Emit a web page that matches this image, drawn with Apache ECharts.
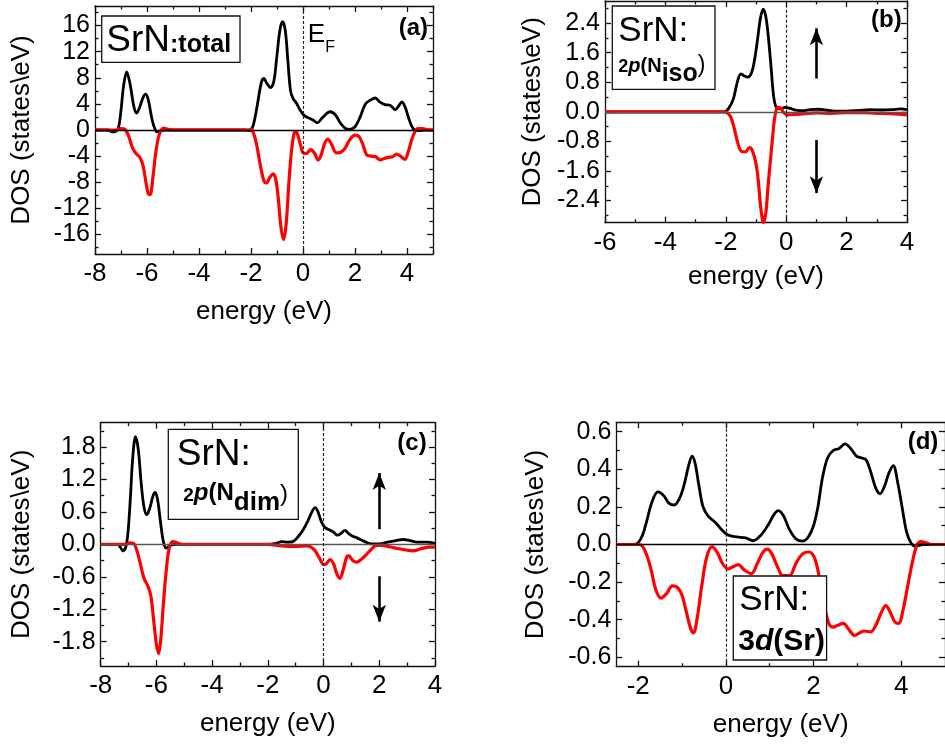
<!DOCTYPE html>
<html><head><meta charset="utf-8">
<script src="https://cdn.jsdelivr.net/npm/echarts@6/dist/echarts.min.js"></script>
<style>html,body{margin:0;padding:0;background:#fff}#c{width:945px;height:747px}</style>
</head><body><div id="c"></div>
<script>
// ---------- DATA ----------
// Panel (a): SrN total
const aUpE = [-8,-7.5,-7.35,-7.2,-7.1,-7.0,-6.9,-6.78,-6.65,-6.5,-6.4,-6.3,-6.15,-6.05,-5.95,-5.8,-5.68,-5.6,-5.45,-5.3,-2.2,-2.05,-1.95,-1.85,-1.75,-1.6,-1.5,-1.4,-1.25,-1.12,-1.0,-0.88,-0.78,-0.68,-0.58,-0.48,-0.38,-0.25,-0.1,0.05,0.25,0.4,0.55,0.75,1.05,1.25,1.45,1.65,1.8,2.0,2.2,2.4,2.6,2.78,2.95,3.15,3.35,3.55,3.7,3.8,3.92,4.05,4.18,4.3,4.45,4.7,5.0];
const aUpV = [0,0,-0.3,-0.2,0.3,3.0,6.8,8.9,7.0,3.5,2.6,3.3,5.0,5.5,4.6,1.5,0,-0.3,-0.1,0,0,-0.1,0.3,1.8,4.0,7.3,7.9,7.2,6.5,7.5,11.5,15.5,16.6,15.2,10.5,6.0,4.8,4.1,3.0,2.2,1.8,1.5,1.1,1.9,2.8,2.3,1.0,0.2,0.1,0.5,2.0,4.0,4.6,4.9,4.3,3.9,3.8,3.1,3.8,4.3,3.6,2.0,0.6,0,-0.1,0,0];
const aDnE = [-8,-7.2,-7.0,-6.85,-6.7,-6.55,-6.4,-6.27,-6.15,-6.05,-5.95,-5.88,-5.78,-5.68,-5.58,-5.48,-5.35,-5.2,-5.0,-2.1,-2.0,-1.9,-1.78,-1.65,-1.5,-1.4,-1.28,-1.15,-1.05,-0.95,-0.85,-0.75,-0.65,-0.55,-0.45,-0.35,-0.28,-0.2,-0.1,0.0,0.12,0.3,0.45,0.58,0.7,0.82,0.95,1.1,1.28,1.45,1.6,1.8,2.0,2.15,2.3,2.45,2.62,2.8,2.96,3.1,3.28,3.45,3.6,3.75,3.92,4.05,4.18,4.3,4.42,4.6,4.8,5.0];
const aDnV = [0,0,0.2,0.1,-1.0,-2.8,-3.7,-4.2,-5.5,-7.8,-9.8,-9.9,-7.5,-4.0,-1.5,-0.2,0.3,0.1,0,0,0.15,-0.5,-2.3,-5.2,-7.8,-8.1,-7.3,-6.7,-7.5,-10.5,-14.8,-16.8,-14.5,-8.5,-3.5,-0.6,-0.2,-0.8,-2.2,-3.5,-3.6,-3.0,-3.6,-4.6,-3.8,-2.2,-1.4,-2.2,-3.5,-3.4,-2.9,-1.5,-0.8,-1.0,-2.2,-3.8,-4.0,-4.1,-4.6,-4.4,-4.2,-4.1,-3.7,-4.0,-4.5,-3.3,-1.5,-0.3,0.2,0.2,0,0];
const aXTicks = [-8,-6,-4,-2,0,2,4];
const aXMinor = [-7,-5,-3,-1,1,3,5];
const aYTicks = [-16,-12,-8,-4,0,4,8,12,16];
const aYMinor = [-18,-14,-10,-6,-2,2,6,10,14,18];

// Panel (b): 2p(N_iso)
const bUpE = [-6,-2.2,-2.05,-1.9,-1.75,-1.62,-1.5,-1.4,-1.28,-1.15,-1.05,-0.95,-0.85,-0.76,-0.68,-0.6,-0.5,-0.42,-0.33,-0.2,-0.05,0.1,0.3,0.55,0.8,1.05,1.3,1.6,2.0,2.4,2.8,3.2,3.5,3.8,4.0];
const bUpV = [0,0,0,0.1,0.35,0.8,1.03,0.98,0.94,1.05,1.4,1.95,2.55,2.78,2.6,2.1,1.2,0.45,0.12,0.08,0.12,0.1,0.05,0.03,0.06,0.07,0.05,0.02,0.02,0.04,0.06,0.05,0.06,0.08,0.06];
const bDnE = [-6,-2.1,-1.95,-1.83,-1.72,-1.6,-1.48,-1.35,-1.22,-1.12,-1.0,-0.92,-0.84,-0.75,-0.67,-0.6,-0.52,-0.44,-0.37,-0.28,-0.18,-0.08,0.05,0.3,0.6,1.0,1.5,2.0,2.5,3.0,3.5,4.0];
const bDnV = [0,0,-0.03,-0.15,-0.45,-0.85,-1.07,-1.08,-0.97,-1.05,-1.4,-1.9,-2.6,-3.0,-2.7,-2.0,-1.3,-0.6,-0.1,0.12,0.1,-0.02,-0.08,-0.07,-0.05,-0.03,-0.04,-0.02,-0.02,-0.04,-0.05,-0.08];
const bXTicks = [-6,-4,-2,0,2,4];
const bXMinor = [-5,-3,-1,1,3];
const bYTicks = [-2.4,-1.6,-0.8,0,0.8,1.6,2.4];
const bYMinor = [-2.8,-2.0,-1.2,-0.4,0.4,1.2,2.0,2.8];

// Panel (c): 2p(N_dim)
const cUpE = [-8,-7.4,-7.3,-7.2,-7.1,-7.02,-6.93,-6.85,-6.75,-6.65,-6.55,-6.45,-6.35,-6.25,-6.12,-6.04,-5.95,-5.85,-5.75,-5.65,-5.5,-5.3,-2.0,-1.7,-1.5,-1.3,-1.1,-0.9,-0.72,-0.55,-0.4,-0.3,-0.2,-0.08,0.05,0.2,0.35,0.5,0.62,0.77,0.9,1.05,1.2,1.45,1.7,2.0,2.3,2.6,2.86,3.1,3.4,3.7,4.0];
const cUpV = [0,0,-0.05,-0.12,-0.05,0.22,0.9,1.6,1.99,1.75,1.15,0.7,0.55,0.65,0.9,0.96,0.8,0.4,0.05,-0.07,-0.02,0,0,0.02,0.05,0.04,0.05,0.15,0.28,0.45,0.62,0.68,0.6,0.42,0.31,0.27,0.23,0.17,0.2,0.26,0.2,0.15,0.12,0.06,0.01,0.01,0.04,0.07,0.09,0.07,0.04,0.04,0.02];
const cDnE = [-8,-7.1,-6.95,-6.82,-6.7,-6.58,-6.45,-6.3,-6.2,-6.1,-6.0,-5.92,-5.85,-5.75,-5.65,-5.55,-5.42,-5.3,-5.1,-2.0,-1.5,-1.0,-0.6,-0.45,-0.3,-0.15,0.0,0.1,0.23,0.35,0.48,0.59,0.7,0.82,0.9,1.05,1.19,1.35,1.5,1.7,1.9,2.1,2.4,2.8,3.2,3.5,3.8,4.0];
const cDnV = [0,0,0.03,0.02,-0.12,-0.35,-0.62,-0.78,-0.95,-1.4,-1.85,-2.02,-1.8,-1.1,-0.5,-0.1,0.05,0.04,0,0,-0.03,-0.04,-0.03,-0.05,-0.12,-0.25,-0.37,-0.36,-0.28,-0.35,-0.55,-0.63,-0.48,-0.25,-0.21,-0.3,-0.33,-0.28,-0.21,-0.1,-0.02,-0.02,-0.05,-0.09,-0.12,-0.08,-0.05,-0.05];
const cXTicks = [-8,-6,-4,-2,0,2,4];
const cXMinor = [-7,-5,-3,-1,1,3];
const cYTicks = [-1.8,-1.2,-0.6,0,0.6,1.2,1.8];
const cYMinor = [-2.1,-1.5,-0.9,-0.3,0.3,0.9,1.5,2.1];

// Panel (d): 3d(Sr)
const dUpE = [-2.5,-2.1,-2.0,-1.9,-1.8,-1.68,-1.55,-1.42,-1.3,-1.18,-1.05,-0.95,-0.85,-0.77,-0.7,-0.62,-0.52,-0.4,-0.25,-0.1,0.05,0.25,0.45,0.62,0.8,0.98,1.1,1.2,1.32,1.45,1.6,1.75,1.88,2.0,2.1,2.2,2.32,2.45,2.58,2.72,2.85,2.98,3.1,3.2,3.3,3.42,3.52,3.62,3.72,3.82,3.92,4.02,4.12,4.22,4.32,4.5,5.0];
const dUpV = [0,0,0.01,0.05,0.13,0.23,0.28,0.26,0.22,0.21,0.25,0.32,0.42,0.47,0.43,0.32,0.2,0.15,0.12,0.08,0.05,0.04,0.035,0.02,0.05,0.11,0.16,0.18,0.15,0.08,0.03,0.018,0.04,0.1,0.2,0.35,0.46,0.5,0.51,0.535,0.51,0.47,0.46,0.45,0.39,0.3,0.27,0.31,0.38,0.42,0.33,0.2,0.07,0.01,-0.01,0,0];
const dDnE = [-2.5,-2.0,-1.9,-1.8,-1.7,-1.6,-1.48,-1.35,-1.22,-1.1,-1.0,-0.9,-0.8,-0.74,-0.66,-0.55,-0.44,-0.32,-0.2,-0.08,0.05,0.15,0.28,0.42,0.58,0.72,0.85,0.95,1.05,1.18,1.3,1.45,1.6,1.75,1.9,2.02,2.12,2.22,2.35,2.45,2.55,2.68,2.8,2.94,3.05,3.15,3.3,3.42,3.55,3.65,3.75,3.85,3.94,4.05,4.15,4.25,4.35,4.45,4.55,4.7,5.0];
const dDnV = [0,0,-0.01,-0.06,-0.14,-0.24,-0.285,-0.26,-0.22,-0.23,-0.27,-0.36,-0.45,-0.47,-0.4,-0.22,-0.07,-0.013,-0.04,-0.1,-0.13,-0.12,-0.107,-0.135,-0.155,-0.1,-0.04,-0.025,-0.05,-0.12,-0.165,-0.165,-0.1,-0.05,-0.04,-0.07,-0.16,-0.3,-0.42,-0.44,-0.43,-0.42,-0.45,-0.484,-0.47,-0.46,-0.465,-0.43,-0.36,-0.325,-0.36,-0.41,-0.42,-0.34,-0.22,-0.1,-0.01,0.015,0.01,0,0];
const dXTicks = [-2,0,2,4];
const dXMinor = [-1,1,3];
const dYTicks = [-0.6,-0.4,-0.2,0,0.2,0.4,0.6];
const dYMinor = [-0.5,-0.3,-0.1,0.1,0.3,0.5];

// Spin arrows (energy, start DOS, end DOS)
const bArrows = [[1.0, 0.9, 2.26], [1.0, -0.76, -2.2]];
const cArrows = [[2.0, 0.28, 1.32], [2.0, -0.59, -1.43]];

const X_NAME = 'energy (eV)';
const Y_NAME = 'DOS (states\\eV)';

// ---------- BUILD ----------
const FONT = '"Liberation Sans", Arial, Helvetica, sans-serif';
const pairs = (xs, ys) => xs.map((x, i) => [x, ys[i]]);

const panels = [
  {grid:{left:95, top:6, width:338, height:248}, xr:[-8,5], yr:[-19,19], xt:aXTicks, xm:aXMinor, yt:aYTicks, ym:aYMinor, fmt:v=>String(v),
   up:pairs(aUpE,aUpV), dn:pairs(aDnE,aDnV), arrows:[], zeroColor:'#000', xGap:45, yGap:60},
  {grid:{left:605, top:1, width:302, height:221.7}, xr:[-6,4], yr:[-3,3], xt:bXTicks, xm:bXMinor, yt:bYTicks, ym:bYMinor, fmt:v=>v.toFixed(1),
   up:pairs(bUpE,bUpV), dn:pairs(bDnE,bDnV), arrows:bArrows, zeroColor:'#555', xGap:41, yGap:59},
  {grid:{left:100.7, top:422.7, width:334.3, height:243.3}, xr:[-8,4], yr:[-2.25,2.25], xt:cXTicks, xm:cXMinor, yt:cYTicks, ym:cYMinor, fmt:v=>v.toFixed(1),
   up:pairs(cUpE,cUpV), dn:pairs(cDnE,cDnV), arrows:cArrows, zeroColor:'#555', xGap:45, yGap:66},
  {grid:{left:616.3, top:422.3, width:333.4, height:244.4}, xr:[-2.5,5], yr:[-0.65,0.65], xt:dXTicks, xm:dXMinor, yt:dYTicks, ym:dYMinor, fmt:v=>v.toFixed(1),
   up:pairs(dUpE,dUpV), dn:pairs(dDnE,dDnV), arrows:[], zeroColor:'#000', xGap:45, yGap:67}
];

const grids = [], xAxes = [], yAxes = [], series = [];
const LINE = {color:'#111', width:1.3};
panels.forEach((p, gi) => {
  grids.push(Object.assign({containLabel:false}, p.grid));
  const base = (min, max) => ({gridIndex:gi, type:'value', min, max, splitLine:{show:false}, silent:true});
  // X axes: bottom major (labels), bottom minor, top major, top minor
  xAxes.push(Object.assign(base(p.xr[0], p.xr[1]), {position:'bottom',
    axisLine:{show:true, onZero:false, lineStyle:LINE},
    axisTick:{show:true, inside:true, length:6, customValues:p.xt, lineStyle:LINE},
    axisLabel:{show:true, customValues:p.xt, fontSize:26, color:'#000', fontFamily:FONT, margin:7, formatter:v=>String(v)},
    name:X_NAME, nameLocation:'middle', nameGap:p.xGap, nameTextStyle:{fontSize:26, color:'#000', fontFamily:FONT}}));
  xAxes.push(Object.assign(base(p.xr[0], p.xr[1]), {position:'bottom', axisLine:{show:false, onZero:false},
    axisTick:{show:true, inside:true, length:3.5, customValues:p.xm, lineStyle:LINE}, axisLabel:{show:false}}));
  xAxes.push(Object.assign(base(p.xr[0], p.xr[1]), {position:'top', axisLine:{show:true, onZero:false, lineStyle:LINE},
    axisTick:{show:true, inside:true, length:6, customValues:p.xt, lineStyle:LINE}, axisLabel:{show:false}}));
  xAxes.push(Object.assign(base(p.xr[0], p.xr[1]), {position:'top', axisLine:{show:false, onZero:false},
    axisTick:{show:true, inside:true, length:3.5, customValues:p.xm, lineStyle:LINE}, axisLabel:{show:false}}));
  // Y axes
  yAxes.push(Object.assign(base(p.yr[0], p.yr[1]), {position:'left',
    axisLine:{show:true, onZero:false, lineStyle:LINE},
    axisTick:{show:true, inside:true, length:6, customValues:p.yt, lineStyle:LINE},
    axisLabel:{show:true, customValues:p.yt, fontSize:25, color:'#000', fontFamily:FONT, margin:5, formatter:p.fmt},
    name:Y_NAME, nameLocation:'middle', nameGap:p.yGap, nameRotate:90, nameTextStyle:{fontSize:26, color:'#000', fontFamily:FONT}}));
  yAxes.push(Object.assign(base(p.yr[0], p.yr[1]), {position:'left', axisLine:{show:false, onZero:false},
    axisTick:{show:true, inside:true, length:3.5, customValues:p.ym, lineStyle:LINE}, axisLabel:{show:false}}));
  yAxes.push(Object.assign(base(p.yr[0], p.yr[1]), {position:'right', axisLine:{show:true, onZero:false, lineStyle:LINE},
    axisTick:{show:true, inside:true, length:6, customValues:p.yt, lineStyle:LINE}, axisLabel:{show:false}}));
  yAxes.push(Object.assign(base(p.yr[0], p.yr[1]), {position:'right', axisLine:{show:false, onZero:false},
    axisTick:{show:true, inside:true, length:3.5, customValues:p.ym, lineStyle:LINE}, axisLabel:{show:false}}));

  const ml = [
    {yAxis:0, symbol:'none', lineStyle:{color:p.zeroColor, width:1.3, type:'solid'}},
    {xAxis:0, symbol:'none', lineStyle:{color:'#222', width:1.2, type:[3,2]}}
  ];
  p.arrows.forEach(a => {
    ml.push([{coord:[a[0], a[1]], symbol:'none'}, {coord:[a[0], a[2]], symbol:'arrow', symbolSize:[10,17], lineStyle:{color:'#000', width:2.6, type:'solid'}}]);
  });
  series.push({type:'line', xAxisIndex:gi*4, yAxisIndex:gi*4, data:p.up, smooth:0.35, showSymbol:false, symbol:'none',
    lineStyle:{color:'#000', width:2.8}, itemStyle:{color:'#000'}, z:3, silent:true,
    markLine:{silent:true, symbol:['none','none'], label:{show:false}, animation:false, data:ml}});
  series.push({type:'line', xAxisIndex:gi*4, yAxisIndex:gi*4, data:p.dn, smooth:0.35, showSymbol:false, symbol:'none',
    lineStyle:{color:'#ff0000', width:3.2}, itemStyle:{color:'#ff0000'}, z:4, silent:true});
});

// ---------- ANNOTATIONS ----------
const box = (x, y, w, h) => ({type:'rect', z:100, shape:{x, y, width:w, height:h}, style:{fill:'#fff', stroke:'#111', lineWidth:1.3}});
const rt = (x, yBottom, text, rich) => ({type:'text', z:101, style:{x, y:yBottom, text, rich, align:'left', verticalAlign:'bottom', textAlign:'left', textVerticalAlign:'bottom', fontFamily:FONT}});
const tok = (size, weight, style, padBottom) => ({fontSize:size, fontWeight:weight||'normal', fontStyle:style||'normal', fontFamily:FONT, color:'#000', verticalAlign:'bottom', padding:[0,0,padBottom||0,0]});
const lab = (xRight, yBottom, text) => ({type:'text', z:101, style:{x:xRight, y:yBottom, text, fontSize:24, fontWeight:'bold', fontFamily:FONT, fill:'#000', align:'right', verticalAlign:'bottom', textAlign:'right', textVerticalAlign:'bottom'}});

const graphic = [
  // (a)
  box(101.7, 16, 138.3, 46.3),
  rt(106.3, 59.6, '{a|SrN}{b|:total}', {a:tok(37), b:tok(25,'bold','normal',2)}),
  rt(307.8, 47.8, '{a|E}', {a:tok(26)}),
  rt(325.2, 55.4, '{a|F}', {a:tok(16)}),
  lab(428, 40.8, '(a)'),
  // (b)
  box(612.3, 6, 102.7, 83.3),
  rt(618.3, 48.7, '{a|SrN:}', {a:tok(35)}),
  rt(618.3, 86.5, '{n|2}{p|p}{m|(N}{s|iso}{c|)}', {n:tok(18,'bold','normal',10), p:tok(20,'bold','italic',10), m:tok(20,'bold','normal',10), s:tok(25,'bold','normal',0), c:tok(23,'normal','normal',9)}),
  lab(901.7, 32.4, '(b)'),
  // (c)
  box(168.3, 429.3, 130, 90),
  rt(176.7, 473.6, '{a|SrN:}', {a:tok(37)}),
  rt(183.3, 516.1, '{n|2}{p|p}{m|(N}{s|dim}{c|)}', {n:tok(19,'bold','normal',11), p:tok(24,'bold','italic',10.5), m:tok(24,'bold','normal',10.5), s:tok(26,'bold','normal',0), c:tok(24,'normal','normal',10)}),
  lab(426.7, 455.8, '(c)'),
  // (d)
  box(733.3, 576, 93.3, 84),
  rt(739.3, 617.7, '{a|SrN:}', {a:tok(35)}),
  rt(738.3, 656.8, '{a|3}{b|d}{a|(Sr)}', {a:tok(30,'bold'), b:tok(30,'bold','italic')}),
  lab(938.3, 454, '(d)')
];

const chart = echarts.init(document.getElementById('c'), null, {renderer:'canvas'});
chart.setOption({animation:false, backgroundColor:'#fff', grid:grids, xAxis:xAxes, yAxis:yAxes, series, graphic});
</script>
</body></html>
